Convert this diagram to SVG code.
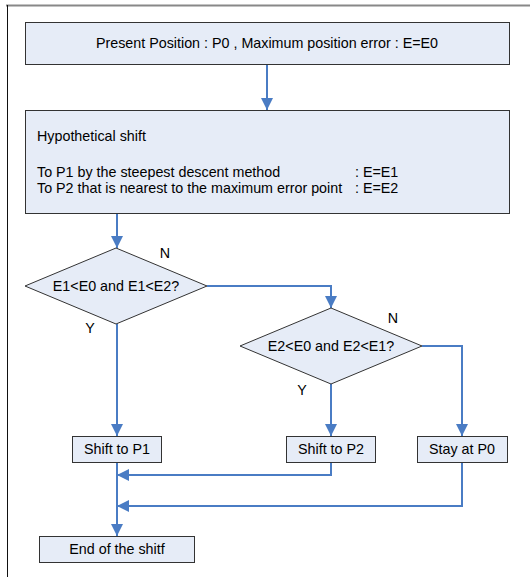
<svg xmlns="http://www.w3.org/2000/svg" width="530" height="577" viewBox="0 0 530 577">
<style>
.box{fill:#E6ECF7;stroke:#333;stroke-width:1}
.t{font-family:"Liberation Sans",Arial,sans-serif;font-size:14.3px;fill:#000}
.c{text-anchor:middle}
.ln{fill:none;stroke:#4A7CC4;stroke-width:2}
</style>
<defs>
<marker id="ah" markerUnits="userSpaceOnUse" markerWidth="12" markerHeight="12" viewBox="0 0 12 12" refX="12" refY="6" orient="auto">
<path d="M0,0 L12,6 L0,12 Z" fill="#4A7CC4"/>
</marker>
</defs>
<rect width="530" height="577" fill="#fff"/>
<g id="frame">
<line x1="6" y1="5.5" x2="530" y2="5.5" stroke="#888" stroke-width="2"/>
<line x1="7.5" y1="5" x2="7.5" y2="577" stroke="#111" stroke-width="1"/>
</g>
<g id="connectors">
<line class="ln" x1="267" y1="64" x2="267" y2="110" marker-end="url(#ah)"/>
<line class="ln" x1="117" y1="213" x2="117" y2="248" marker-end="url(#ah)"/>
<polyline class="ln" points="207,286 331,286 331,308" marker-end="url(#ah)"/>
<line class="ln" x1="117" y1="324" x2="117" y2="436" marker-end="url(#ah)"/>
<line class="ln" x1="331" y1="384" x2="331" y2="436" marker-end="url(#ah)"/>
<polyline class="ln" points="422,346 462,346 462,436" marker-end="url(#ah)"/>
<polyline class="ln" points="331,462 331,475 117,475" marker-end="url(#ah)"/>
<polyline class="ln" points="462,462 462,506 117,506" marker-end="url(#ah)"/>
<line class="ln" x1="117" y1="462" x2="117" y2="536" marker-end="url(#ah)"/>
</g>
<g id="start">
<rect class="box" x="25.5" y="22.5" width="484" height="42"/>
<text class="t c" x="267" y="48">Present Position : P0 , Maximum position error : E=E0</text>
</g>
<g id="hypothetical">
<rect class="box" x="25.5" y="110.5" width="484" height="103"/>
<text class="t" x="37" y="141">Hypothetical shift</text>
<text class="t" x="37" y="177">To P1 by the steepest descent method</text>
<text class="t" x="355" y="177">: E=E1</text>
<text class="t" x="37" y="193">To P2 that is nearest to the maximum error point</text>
<text class="t" x="355" y="193">: E=E2</text>
</g>
<g id="decision1">
<polygon class="box" points="116,248 207,286 116,324 25,286"/>
<text class="t c" x="116" y="291">E1&lt;E0 and E1&lt;E2?</text>
<text class="t c" x="165" y="258">N</text>
<text class="t c" x="90" y="333">Y</text>
</g>
<g id="decision2">
<polygon class="box" points="331,308 422,346 331,384 240,346"/>
<text class="t c" x="331" y="351">E2&lt;E0 and E2&lt;E1?</text>
<text class="t c" x="393" y="323">N</text>
<text class="t c" x="302" y="395">Y</text>
</g>
<g id="shiftP1">
<rect class="box" x="72.5" y="436.5" width="89" height="26"/>
<text class="t c" x="117" y="454">Shift to P1</text>
</g>
<g id="shiftP2">
<rect class="box" x="286.5" y="436.5" width="89" height="26"/>
<text class="t c" x="331" y="454">Shift to P2</text>
</g>
<g id="stayP0">
<rect class="box" x="417.5" y="436.5" width="90" height="26"/>
<text class="t c" x="462" y="454">Stay at P0</text>
</g>
<g id="end">
<rect class="box" x="39.5" y="536.5" width="155" height="26"/>
<text class="t c" x="117" y="554">End of the shitf</text>
</g>
</svg>
